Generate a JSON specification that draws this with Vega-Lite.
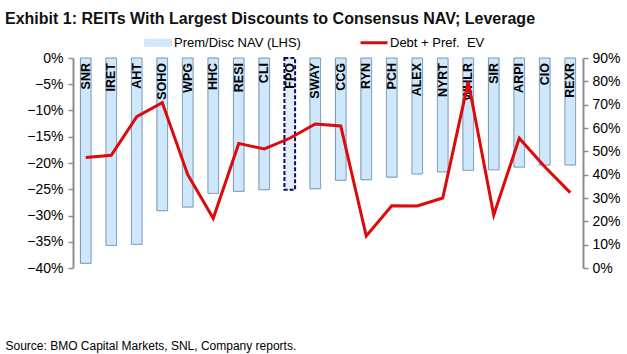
{
  "$schema": "https://vega.github.io/schema/vega-lite/v6.json",
  "width": 510,
  "height": 210,
  "autosize": {"type": "none"},
  "padding": {"left": 73, "top": 58, "right": 44, "bottom": 86},
  "background": "white",
  "config": {"view": {"stroke": null}, "font": "Liberation Sans"},
  "title": {
    "text": "Exhibit 1: REITs With Largest Discounts to Consensus NAV; Leverage",
    "anchor": "start",
    "frame": "group",
    "dx": -68,
    "offset": 9,
    "font": "Liberation Sans",
    "fontSize": 16,
    "fontWeight": "bold",
    "color": "#111111"
  },
  "data": {
    "values": [
      {"ticker": "SNR", "nav": -0.391, "lev": 0.474},
      {"ticker": "IRET", "nav": -0.357, "lev": 0.483},
      {"ticker": "AHT", "nav": -0.355, "lev": 0.649},
      {"ticker": "SOHO", "nav": -0.291, "lev": 0.709},
      {"ticker": "WPG", "nav": -0.284, "lev": 0.40},
      {"ticker": "HHC", "nav": -0.258, "lev": 0.213},
      {"ticker": "RESI", "nav": -0.254, "lev": 0.534},
      {"ticker": "CLI", "nav": -0.251, "lev": 0.510},
      {"ticker": "FPO", "nav": -0.251, "lev": 0.556},
      {"ticker": "SWAY", "nav": -0.249, "lev": 0.617},
      {"ticker": "CCG", "nav": -0.233, "lev": 0.609},
      {"ticker": "RYN", "nav": -0.232, "lev": 0.137},
      {"ticker": "PCH", "nav": -0.227, "lev": 0.267},
      {"ticker": "ALEX", "nav": -0.221, "lev": 0.266},
      {"ticker": "NYRT", "nav": -0.217, "lev": 0.300},
      {"ticker": "WHLR", "nav": -0.214, "lev": 0.799},
      {"ticker": "SIR", "nav": -0.213, "lev": 0.227},
      {"ticker": "ARPI", "nav": -0.208, "lev": 0.556},
      {"ticker": "CIO", "nav": -0.204, "lev": 0.434},
      {"ticker": "REXR", "nav": -0.204, "lev": 0.323}
    ]
  },
  "layer": [
    {
      "layer": [
        {
          "mark": {"type": "bar", "width": {"band": 0.42}},
          "encoding": {
            "x": {
              "field": "ticker",
              "type": "nominal",
              "sort": null,
              "scale": {"paddingInner": 0, "paddingOuter": 0},
              "axis": {
                "orient": "top",
                "title": null,
                "labels": false,
                "ticks": true,
                "tickBand": "extent",
                "tickSize": 4,
                "tickColor": "#8c8c8c",
                "tickWidth": 1,
                "domainColor": "#8c8c8c",
                "domainWidth": 2
              }
            },
            "y": {
              "field": "nav",
              "type": "quantitative",
              "scale": {"domain": [-0.4, 0], "nice": false, "zero": false},
              "axis": {
                "orient": "left",
                "title": null,
                "grid": false,
                "values": [-0.4, -0.35, -0.3, -0.25, -0.2, -0.15, -0.1, -0.05, 0],
                "format": ".0%",
                "labelOverlap": false,
                "labelFont": "Liberation Sans",
                "labelFontSize": 14,
                "labelColor": "#000000",
                "labelPadding": 5,
                "tickSize": 5,
                "tickColor": "#8c8c8c",
                "tickWidth": 1.5,
                "domainColor": "#8c8c8c",
                "domainWidth": 2
              }
            },
            "y2": {"datum": 0},
            "color": {
              "condition": {"test": "datum.ticker === 'FPO'", "value": "#e3edf7"},
              "datum": "Prem/Disc NAV (LHS)",
              "scale": {
                "domain": ["Prem/Disc NAV (LHS)", "Debt + Pref.\u00a0 EV"],
                "range": ["#cfe7fa", "#dc0a0a"]
              },
              "legend": {
                "orient": "none",
                "legendX": 78.5,
                "legendY": -22,
                "direction": "horizontal",
                "title": null,
                "symbolSize": 729,
                "symbolType": "stroke",
                "columnPadding": 53,
                "labelFont": "Liberation Sans",
                "labelFontSize": 13,
                "labelColor": "#000000",
                "labelOffset": 9.5,
                "encode": {
                  "symbols": {
                    "update": {
                      "shape": {"signal": "datum.index === 1 ? 'stroke' : 'M-1,-0.26H1V0.26H-1Z'"},
                      "size": {"value": 729},
                      "fill": {"signal": "datum.index === 1 ? 'transparent' : '#cfe7fa'"},
                      "stroke": {"signal": "datum.index === 1 ? '#dc0a0a' : '#6d8fb0'"},
                      "strokeWidth": {"signal": "datum.index === 1 ? 3 : 1"},
                      "opacity": {"value": 1}
                    }
                  }
                }
              }
            },
            "stroke": {
              "condition": {"test": "datum.ticker === 'FPO'", "value": "#0a0a66"},
              "value": "#6d8fb0"
            },
            "strokeWidth": {
              "condition": {"test": "datum.ticker === 'FPO'", "value": 2},
              "value": 1
            },
            "strokeDash": {
              "condition": {"test": "datum.ticker === 'FPO'", "value": [4, 2]},
              "value": [1, 0]
            }
          }
        },
        {
          "mark": {
            "type": "text",
            "angle": 270,
            "align": "right",
            "baseline": "middle",
            "dx": -5,
            "font": "Liberation Sans",
            "fontSize": 12.5,
            "fontWeight": "bold",
            "color": "#000000"
          },
          "encoding": {
            "x": {"field": "ticker", "type": "nominal", "sort": null, "axis": null},
            "y": {
              "datum": 0,
              "type": "quantitative",
              "axis": {
                "orient": "left",
                "title": null,
                "grid": false,
                "values": [-0.4, -0.35, -0.3, -0.25, -0.2, -0.15, -0.1, -0.05, 0],
                "format": ".0%",
                "labelOverlap": false,
                "labelFont": "Liberation Sans",
                "labelFontSize": 14,
                "labelColor": "#000000",
                "labelPadding": 5,
                "tickSize": 5,
                "tickColor": "#8c8c8c",
                "tickWidth": 1.5,
                "domainColor": "#8c8c8c",
                "domainWidth": 2
              }
            },
            "text": {"field": "ticker"}
          }
        }
      ]
    },
    {
      "mark": {"type": "line", "strokeWidth": 3},
      "encoding": {
        "x": {
          "field": "ticker",
          "type": "nominal",
          "sort": null,
          "axis": {
            "orient": "bottom",
            "labels": false,
            "ticks": false,
            "domain": false,
            "title": "Source: BMO Capital Markets, SNL, Company reports.",
            "titleAnchor": "start",
            "titleAlign": "left",
            "titleX": -68,
            "titleY": 77,
            "titleBaseline": "middle",
            "titleFont": "Liberation Sans",
            "titleFontSize": 12,
            "titleFontWeight": "normal",
            "titleColor": "#000000"
          }
        },
        "y": {
          "field": "lev",
          "type": "quantitative",
          "scale": {"domain": [0, 0.9], "nice": false},
          "axis": {
            "orient": "right",
            "title": null,
            "grid": false,
            "values": [0, 0.1, 0.2, 0.3, 0.4, 0.5, 0.6, 0.7, 0.8, 0.9],
            "format": ".0%",
            "labelOverlap": false,
            "labelFont": "Liberation Sans",
            "labelFontSize": 14,
            "labelColor": "#000000",
            "labelPadding": 4,
            "tickSize": 5,
            "tickColor": "#8c8c8c",
            "tickWidth": 1.5,
            "domainColor": "#8c8c8c",
            "domainWidth": 2
          }
        },
        "color": {
          "datum": "Debt + Pref.\u00a0 EV",
          "legend": {
            "orient": "none",
            "legendX": 78.5,
            "legendY": -22,
            "direction": "horizontal",
            "title": null,
            "symbolSize": 729,
            "symbolType": "stroke",
            "columnPadding": 53,
            "labelFont": "Liberation Sans",
            "labelFontSize": 13,
            "labelColor": "#000000",
            "labelOffset": 9.5,
            "encode": {
              "symbols": {
                "update": {
                  "shape": {"signal": "datum.index === 1 ? 'stroke' : 'M-1,-0.26H1V0.26H-1Z'"},
                  "size": {"value": 729},
                  "fill": {"signal": "datum.index === 1 ? 'transparent' : '#cfe7fa'"},
                  "stroke": {"signal": "datum.index === 1 ? '#dc0a0a' : '#6d8fb0'"},
                  "strokeWidth": {"signal": "datum.index === 1 ? 3 : 1"},
                  "opacity": {"value": 1}
                }
              }
            }
          }
        }
      }
    }
  ],
  "resolve": {"scale": {"y": "independent"}, "axis": {"x": "independent"}}
}
